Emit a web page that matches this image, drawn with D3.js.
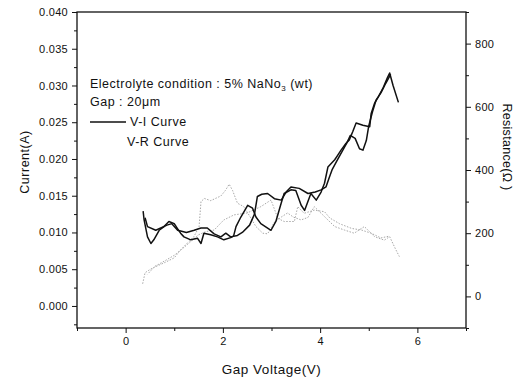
<!DOCTYPE html>
<html>
<head>
<meta charset="utf-8">
<script src="https://cdn.jsdelivr.net/npm/d3@7"></script>
<style>
  body { margin: 0; background: #fff; }
  text { font-family: "Liberation Sans", Arial, sans-serif; fill: #111; }
</style>
</head>
<body>
<div id="chart"></div>
<script>
// V-I curve, two sweeps [voltage, current]
var viUp = [[0.36,0.0129],[0.38,0.0117],[0.45,0.0094],[0.52,0.0085],[0.58,0.0090],[0.69,0.0103],[0.79,0.0108],[0.89,0.0115],[1.00,0.0112],[1.07,0.0105],[1.13,0.0099],[1.20,0.0094],[1.34,0.0090],[1.48,0.0092],[1.55,0.0085],[1.61,0.0099],[1.75,0.0097],[1.89,0.0094],[2.02,0.0090],[2.16,0.0093],[2.22,0.0095],[2.27,0.0108],[2.37,0.0121],[2.51,0.0137],[2.61,0.0133],[2.68,0.0121],[2.78,0.0112],[2.99,0.0103],[3.09,0.0115],[3.20,0.0140],[3.26,0.0153],[3.40,0.0158],[3.50,0.0157],[3.61,0.0137],[3.68,0.0130],[3.81,0.0153],[3.92,0.0144],[4.02,0.0155],[4.09,0.0167],[4.16,0.0189],[4.30,0.0199],[4.36,0.0205],[4.43,0.0212],[4.53,0.0221],[4.60,0.0226],[4.67,0.0237],[4.74,0.0249],[4.88,0.0246],[5.02,0.0244],[5.05,0.0262],[5.12,0.0276],[5.20,0.0285],[5.29,0.0296],[5.38,0.0310],[5.43,0.0317],[5.50,0.0300],[5.61,0.0277]];
var viDown = [[5.45,0.0315],[5.35,0.0303],[5.25,0.0290],[5.15,0.0280],[5.08,0.0265],[5.00,0.0245],[4.95,0.0225],[4.88,0.0212],[4.81,0.0214],[4.72,0.0228],[4.62,0.0232],[4.55,0.0222],[4.45,0.0210],[4.35,0.0198],[4.25,0.0186],[4.19,0.0175],[4.12,0.0162],[4.02,0.0158],[3.90,0.0155],[3.75,0.0153],[3.57,0.0160],[3.40,0.0162],[3.30,0.0155],[3.20,0.0144],[3.06,0.0146],[2.92,0.0153],[2.80,0.0152],[2.71,0.0149],[2.65,0.0125],[2.55,0.0110],[2.40,0.0100],[2.30,0.0096],[2.16,0.0094],[2.06,0.0099],[1.96,0.0094],[1.82,0.0098],[1.68,0.0106],[1.55,0.0106],[1.41,0.0103],[1.25,0.0100],[1.07,0.0103],[0.95,0.0112],[0.85,0.0110],[0.62,0.0103],[0.45,0.0108],[0.40,0.0120]];

// V-R curve, two sweeps [voltage, resistance]
var vrUp = [[0.35,40],[0.40,75],[0.50,85],[0.60,93],[0.79,106],[1.00,122],[1.13,147],[1.27,169],[1.40,188],[1.51,220],[1.55,300],[1.62,310],[1.75,303],[1.96,318],[2.05,335],[2.13,355],[2.20,335],[2.30,295],[2.43,284],[2.58,247],[2.68,221],[2.82,200],[2.92,198],[3.06,235],[3.20,251],[3.33,264],[3.45,251],[3.61,242],[3.75,250],[3.88,284],[4.02,263],[4.16,242],[4.30,221],[4.50,210],[4.70,200],[4.91,221],[5.12,189],[5.32,178],[5.43,189],[5.55,150],[5.63,126]];
var vrDown = [[5.40,190],[5.25,185],[5.05,200],[4.85,210],[4.65,215],[4.40,230],[4.20,248],[4.09,268],[3.88,273],[3.67,263],[3.54,284],[3.47,237],[3.26,237],[3.13,247],[2.99,305],[2.78,284],[2.50,264],[2.23,258],[2.02,242],[1.82,210],[1.65,205],[1.50,195],[1.35,175],[1.20,155],[1.00,130],[0.80,112],[0.60,95],[0.45,70]];

var xTicks = [0, 2, 4, 6];
var xMinor = [-1, 1, 3, 5, 7];
var iTicks = [0, 0.005, 0.010, 0.015, 0.020, 0.025, 0.030, 0.035, 0.040];
var iMinor = [-0.0025, 0.0025, 0.0075, 0.0125, 0.0175, 0.0225, 0.0275, 0.0325, 0.0375];
var rTicks = [0, 200, 400, 600, 800];
var rMinor = [-100, 100, 300, 500, 700, 900];

var margin = {top: 12, right: 59, bottom: 53, left: 77},
    width = 525 - margin.left - margin.right,
    height = 381 - margin.top - margin.bottom;

var svg = d3.select("#chart")
  .append("svg")
    .attr("width", width + margin.left + margin.right)
    .attr("height", height + margin.top + margin.bottom)
  .append("g")
    .attr("transform", "translate(" + margin.left + "," + margin.top + ")");

var x = d3.scaleLinear().domain([-1, 7]).range([0, width]);
var yI = d3.scaleLinear().domain([-0.003, 0.040]).range([height, 0]);
var yR = d3.scaleLinear().domain([-100, 900]).range([height, 0]);

function tidy(g) {
  g.select(".domain").remove();
  g.selectAll("line").attr("stroke", "#111").attr("stroke-width", 1);
  g.selectAll("text").attr("font-size", "11px").attr("fill", "#111")
    .style("letter-spacing", "0.3px")
    .style("font-family", "'Liberation Sans', Arial, sans-serif");
}

// bottom axis
svg.append("g")
  .attr("transform", "translate(0," + height + ")")
  .call(d3.axisBottom(x).tickValues(xMinor).tickSize(3).tickFormat(""))
  .call(tidy);
svg.append("g")
  .attr("transform", "translate(0," + height + ")")
  .call(d3.axisBottom(x).tickValues(xTicks).tickSize(5).tickPadding(4).tickFormat(d3.format("d")))
  .call(tidy);

// left axis
svg.append("g")
  .call(d3.axisLeft(yI).tickValues(iMinor).tickSize(3).tickFormat(""))
  .call(tidy);
svg.append("g")
  .call(d3.axisLeft(yI).tickValues(iTicks).tickSize(5).tickPadding(4).tickFormat(d3.format(".3f")))
  .call(tidy);

// right axis
svg.append("g")
  .attr("transform", "translate(" + width + ",0)")
  .call(d3.axisRight(yR).tickValues(rMinor).tickSize(3).tickFormat(""))
  .call(tidy);
svg.append("g")
  .attr("transform", "translate(" + width + ",0)")
  .call(d3.axisRight(yR).tickValues(rTicks).tickSize(5).tickPadding(4).tickFormat(d3.format("d")))
  .call(tidy);

// frame
svg.append("rect")
  .attr("width", width)
  .attr("height", height)
  .attr("fill", "none")
  .attr("stroke", "#111")
  .attr("stroke-width", 1.3);

var lineI = d3.line().x(function(d) { return x(d[0]); }).y(function(d) { return yI(d[1]); });
var lineR = d3.line().x(function(d) { return x(d[0]); }).y(function(d) { return yR(d[1]); });

[vrUp, vrDown].forEach(function(s) {
  svg.append("path")
    .datum(s)
    .attr("d", lineR)
    .attr("fill", "none")
    .attr("stroke", "#a8a8a8")
    .attr("stroke-width", 1)
    .attr("stroke-dasharray", "1.5,1.5");
});

[viUp, viDown].forEach(function(s) {
  svg.append("path")
    .datum(s)
    .attr("d", lineI)
    .attr("fill", "none")
    .attr("stroke", "#111")
    .attr("stroke-width", 1.5)
    .attr("stroke-linejoin", "round");
});

// axis titles
svg.append("text")
  .attr("x", width / 2)
  .attr("y", height + 46)
  .attr("text-anchor", "middle")
  .attr("font-size", "13.5px")
  .style("letter-spacing", "0.5px")
  .text("Gap Voltage(V)");

svg.append("text")
  .attr("transform", "translate(" + (-48) + "," + 150 + ") rotate(-90)")
  .attr("text-anchor", "middle")
  .attr("font-size", "12.5px")
  .style("letter-spacing", "0.5px")
  .text("Current(A)");

svg.append("text")
  .attr("transform", "translate(" + (width + 37) + "," + 135 + ") rotate(90)")
  .attr("text-anchor", "middle")
  .attr("font-size", "12.5px")
  .style("letter-spacing", "0.3px")
  .text("Resistance(\u03A9 )");

// legend block
var leg = svg.append("g").attr("font-size", "12.5px").style("letter-spacing", "0.5px");
var t1 = leg.append("text").attr("x", 13).attr("y", 76);
t1.append("tspan").text("Electrolyte condition : 5% NaNo");
t1.append("tspan").attr("dy", 3).attr("font-size", "8px").text("3");
t1.append("tspan").attr("dy", -3).text(" (wt)");
leg.append("text").attr("x", 13).attr("y", 94).text("Gap : 20\u03BCm");
leg.append("line")
  .attr("x1", 13).attr("x2", 49)
  .attr("y1", 110).attr("y2", 110)
  .attr("stroke", "#111").attr("stroke-width", 1.3);
leg.append("text").attr("x", 53).attr("y", 114).text("V-I Curve");
leg.append("text").attr("x", 50).attr("y", 134).text("V-R Curve");
</script>
</body>
</html>
